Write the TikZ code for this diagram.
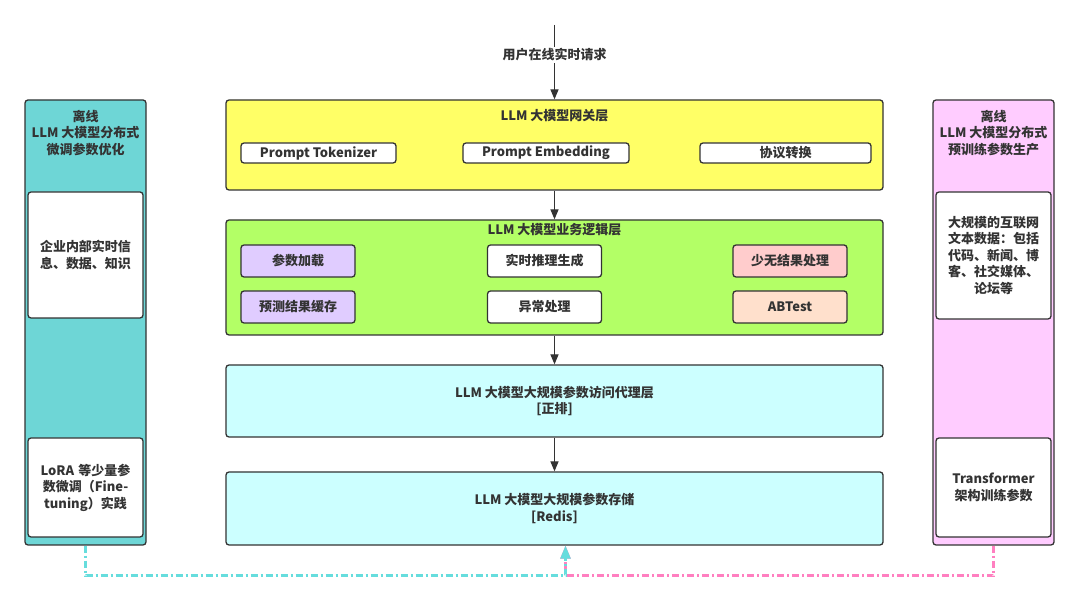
\documentclass[tikz,border=0pt]{standalone}
\usepackage{fontspec}
\setmainfont{Noto Sans CJK SC}
\usetikzlibrary{arrows.meta}
\definecolor{ink}{HTML}{333333}
\definecolor{gwyellow}{HTML}{FFFF66}
\definecolor{logicgreen}{HTML}{B3FF66}
\definecolor{paramcyan}{HTML}{CCFFFF}
\definecolor{leftteal}{HTML}{6ED6D6}
\definecolor{rightpink}{HTML}{FFCCFF}
\definecolor{lavender}{HTML}{E0CCFF}
\definecolor{rosebox}{HTML}{FFCCCC}
\definecolor{peach}{HTML}{FFE0CC}
\definecolor{dashteal}{HTML}{66DDDD}
\definecolor{dashpink}{HTML}{FF7FC0}
\tikzset{
  txt/.style={font=\bfseries\fontsize{13}{16.5}\selectfont, text=ink, align=center},
  layer/.style={txt, draw=ink, line width=1.3pt, rounded corners=3pt, minimum width=657pt, inner sep=0pt},
  column/.style={draw=ink, line width=1.3pt, rounded corners=3pt, minimum width=121pt, minimum height=445pt, inner sep=0pt},
  inbox/.style={txt, draw=ink, line width=1.3pt, rounded corners=3pt, fill=white, minimum width=115pt, text width=104pt, inner sep=0pt},
  chip/.style={txt, draw=ink, line width=1.3pt, rounded corners=3pt, fill=white, minimum height=20pt, inner sep=0pt},
  tile/.style={txt, draw=ink, line width=1.3pt, rounded corners=3pt, fill=white, minimum width=114pt, minimum height=32pt, inner sep=0pt},
  arr/.style={draw=ink, line width=1.3pt, -{Triangle[length=10pt,width=8pt]}},
  flow/.style={line width=2.3pt, dash pattern=on 7pt off 3pt on 2pt off 3pt, -{Triangle[length=13pt,width=10pt]}}
}
\begin{document}
\begin{tikzpicture}[x=1pt,y=-1pt]
\fill[white] (0,0) rectangle (1080,601);
\useasboundingbox (0,0) rectangle (1080,601);

% gateway layer
\node[layer, fill=gwyellow, minimum height=90pt] (gw) at (554.5,145) {};
\node[txt] (gwtitle) at (554.5,116) {LLM 大模型网关层};
\node[chip, minimum width=155pt] (tok) at (318.5,153) {Prompt Tokenizer};
\node[chip, minimum width=166pt] (emb) at (546,153) {Prompt Embedding};
\node[chip, minimum width=171pt] (proto) at (785.5,153) {协议转换};

% business logic layer
\node[layer, fill=logicgreen, minimum height=115pt] (logic) at (554.5,277.5) {};
\node[txt] (logictitle) at (554.5,230) {LLM 大模型业务逻辑层};
\node[tile, fill=lavender] (load) at (298,261) {参数加载};
\node[tile] (infer) at (544.5,261) {实时推理生成};
\node[tile, fill=rosebox] (few) at (790,261) {少无结果处理};
\node[tile, fill=lavender] (cache) at (298,307) {预测结果缓存};
\node[tile] (except) at (544.5,307) {异常处理};
\node[tile, fill=peach] (ab) at (790,307) {ABTest};

% parameter access proxy and storage
\node[layer, fill=paramcyan, minimum height=72pt] (proxy) at (554.5,401) {LLM 大模型大规模参数访问代理层\\{}[正排]};
\node[layer, fill=paramcyan, minimum height=73pt] (store) at (554.5,508.5) {LLM 大模型大规模参数存储\\{}[Redis]};

% offline fine-tuning column
\node[column, fill=leftteal] (left) at (85.5,322.5) {};
\node[txt] (lefttitle) at (85.5,133) {离线\\LLM 大模型分布式\\微调参数优化};
\node[inbox, minimum height=126pt] (lk) at (85.5,255) {企业内部实时信\\息、数据、知识};
\node[inbox, minimum height=99pt] (lora) at (85.5,487.5) {LoRA 等少量参\\数微调（Fine-\\tuning）实践};

% offline pre-training column
\node[column, fill=rightpink] (right) at (993.5,322.5) {};
\node[txt] (righttitle) at (993.5,133) {离线\\LLM 大模型分布式\\预训练参数生产};
\node[inbox, minimum height=127pt] (web) at (993.5,255.5) {大规模的互联网\\文本数据：包括\\代码、新闻、博\\客、社交媒体、\\论坛等};
\node[inbox, minimum height=99pt] (tf) at (993.5,487.5) {Transformer\\架构训练参数};

% online request flow
\coordinate (req) at (554.5,25);
\draw[arr] (req) -- (gw.north);
\node[txt, fill=white, inner sep=2pt] (reqlabel) at (554.5,55) {用户在线实时请求};
\draw[arr] (gw.south) -- (logic.north);
\draw[arr] (logic.south) -- (proxy.north);
\draw[arr] (proxy.south) -- (store.north);

% offline parameter feeds into storage
\coordinate (feed) at ([xshift=11pt]store.south);
\draw[flow, draw=dashpink] (right.south) -- ++(0,30) -| (feed);
\draw[flow, draw=dashteal] (left.south) -- ++(0,30) -| (feed);
\end{tikzpicture}
\end{document}
